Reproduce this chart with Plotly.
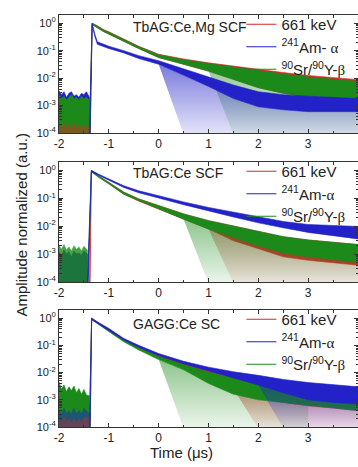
import plotly.graph_objects as go

# ---------------- data ----------------
FLOOR = 9e-5
x_ticks = [-2, -1, 0, 1, 2, 3, 4]
y_tick_vals = [1e-4, 1e-3, 1e-2, 1e-1, 1]
y_tick_text = ["10<sup>-4</sup>", "10<sup>-3</sup>", "10<sup>-2</sup>", "10<sup>-1</sup>", "10<sup>0</sup>"]

panel_titles = ["TbAG:Ce,Mg SCF", "TbAG:Ce SCF", "GAGG:Ce SC"]
serif = '<span style="font-family:Liberation Serif">%s</span>'
legend_p1 = ["661 keV", "<sup>241</sup>Am- " + serif % "α", "<sup>90</sup>Sr/<sup>90</sup>Y-" + serif % "β"]
legend_p23 = ["661 keV", "<sup>241</sup>Am-" + serif % "α", "<sup>90</sup>Sr/<sup>90</sup>Y-" + serif % "β"]

# ---- panel 1 : TbAG:Ce,Mg SCF ----
p1_t_pre = [-2.0, -1.95, -1.9, -1.85, -1.8, -1.75, -1.7, -1.65, -1.6, -1.55, -1.5, -1.45, -1.39]
p1_red_pre = [2e-4, 1.5e-4, 2.5e-4, 1.5e-4, 2e-4, 1.5e-4, 2.5e-4, 1.5e-4, 2e-4, 1.5e-4, 2e-4, 1.5e-4, 2e-4]
p1_blue_pre = [3.5e-3, 2.5e-3, 3.2e-3, 2.0e-3, 2.8e-3, 3.2e-3, 2.2e-3, 2.5e-3, 2.0e-3, 2.8e-3, 2.5e-3, 3.2e-3, 2.0e-3]
p1_green_pre = [2.5e-3, 1.8e-3, 2.2e-3, 1.6e-3, 2.0e-3, 2.5e-3, 1.8e-3, 2.0e-3, 1.6e-3, 2.2e-3, 1.8e-3, 2.0e-3, 1.6e-3]
p1_rise = -1.39
p1_t = [-1.335, -1.25, -1.1, -1.0, -0.7, -0.4, 0.0, 0.5, 1.0, 1.5, 2.0, 2.5, 3.0, 3.5, 4.0]
p1_red_hi = [1.0, 0.85, 0.58, 0.49, 0.27, 0.145, 0.074, 0.05, 0.036, 0.027, 0.021, 0.016, 0.0125, 0.0102, 0.0088]
p1_red_lo = [0.89, 0.72, 0.49, 0.40, 0.22, 0.12, 0.056, 0.032, 0.018, 0.0089, 0.0045, 0.0028, 0.002, 0.0014, 0.0011]
p1_green_hi = [1.0, 0.83, 0.56, 0.47, 0.26, 0.14, 0.071, 0.047, 0.034, 0.025, 0.019, 0.014, 0.011, 0.0089, 0.0076]
p1_green_lo = [0.89, 0.72, 0.49, 0.40, 0.22, 0.12, 0.056, 0.032, 0.018, 0.0089, 0.0045, 0.0028, 0.002, 0.0014, 0.0011]
p1_t_blue = [-1.335, -1.28, -1.23, -1.1, -1.0, -0.7, -0.4, 0.0, 0.5, 1.0, 1.5, 2.0, 2.5, 3.0, 3.5, 4.0]
p1_blue_hi = [1.0, 0.40, 0.21, 0.17, 0.145, 0.10, 0.066, 0.043, 0.022, 0.011, 0.0056, 0.0032, 0.0025, 0.0022, 0.002, 0.0018]
p1_blue_lo = [0.87, 0.32, 0.17, 0.14, 0.12, 0.083, 0.052, 0.032, 0.0126, 0.005, 0.0018, 0.0009, 0.0007, 0.0006, 0.0006, 0.0006]

# ---- panel 2 : TbAG:Ce SCF ----
p2_t_pre = [-2.0, -1.95, -1.9, -1.85, -1.8, -1.75, -1.7, -1.65, -1.6, -1.55, -1.5, -1.43]
p2_red_pre = [2e-4, 1.5e-4, 2.5e-4, 1.5e-4, 2e-4, 1.5e-4, 2.5e-4, 1.5e-4, 2e-4, 1.5e-4, 2e-4, 1.5e-4]
p2_blue_pre = [1.2e-3, 0.9e-3, 1.4e-3, 1.0e-3, 1.2e-3, 0.8e-3, 1.3e-3, 1.0e-3, 1.1e-3, 0.9e-3, 1.3e-3, 1.0e-3]
p2_green_pre = [2.0e-3, 1.5e-3, 2.2e-3, 1.4e-3, 1.8e-3, 1.3e-3, 2.0e-3, 1.5e-3, 1.8e-3, 1.3e-3, 1.9e-3, 1.4e-3]
p2_rise = -1.43
p2_red_rise = -1.39
p2_t = [-1.35, -1.2, -1.0, -0.7, -0.4, 0.0, 0.5, 1.0, 1.5, 2.0, 2.5, 3.0, 3.5, 4.0]
p2_red_hi = [1.0, 0.63, 0.38, 0.166, 0.095, 0.054, 0.0275, 0.0158, 0.01, 0.0066, 0.0042, 0.0032, 0.0026, 0.0022]
p2_red_lo = [0.89, 0.55, 0.33, 0.14, 0.079, 0.042, 0.0178, 0.0079, 0.003, 0.0015, 0.0008, 0.0006, 0.0005, 0.0004]
p2_green_hi = [1.0, 0.63, 0.38, 0.166, 0.095, 0.054, 0.0275, 0.0158, 0.01, 0.0066, 0.0042, 0.0032, 0.0026, 0.0022]
p2_green_lo = [0.89, 0.55, 0.33, 0.14, 0.079, 0.042, 0.0178, 0.0079, 0.004, 0.002, 0.0011, 0.0008, 0.00063, 0.0005]
p2_blue_hi = [1.0, 0.72, 0.50, 0.28, 0.186, 0.123, 0.074, 0.047, 0.032, 0.021, 0.0148, 0.0115, 0.0105, 0.0098]
p2_blue_lo = [0.89, 0.65, 0.44, 0.245, 0.158, 0.102, 0.059, 0.035, 0.0214, 0.0132, 0.0087, 0.006, 0.0045, 0.0035]

# ---- panel 3 : GAGG:Ce SC ----
p3_t_pre = [-2.0, -1.95, -1.9, -1.85, -1.8, -1.75, -1.7, -1.65, -1.6, -1.55, -1.5, -1.45, -1.39]
p3_red_pre = [2e-4, 1.5e-4, 2.5e-4, 1.5e-4, 2e-4, 1.5e-4, 2e-4, 1.5e-4, 2e-4, 1.5e-4, 2e-4, 2.5e-4, 2e-4]
p3_blue_pre = [4e-4, 3e-4, 5e-4, 3e-4, 4e-4, 3e-4, 5e-4, 3e-4, 4e-4, 3e-4, 5e-4, 4e-4, 3e-4]
p3_green_pre = [4.5e-3, 2.5e-3, 3.5e-3, 2.0e-3, 3.0e-3, 2.2e-3, 3.2e-3, 1.8e-3, 2.6e-3, 1.6e-3, 2.4e-3, 1.5e-3, 1.4e-3]
p3_rise = -1.39
p3_t = [-1.345, -1.2, -1.0, -0.7, -0.4, 0.0, 0.5, 1.0, 1.5, 2.0, 2.5, 3.0, 3.5, 4.0]
p3_red_hi = [1.0, 0.66, 0.40, 0.17, 0.091, 0.045, 0.023, 0.0126, 0.0079, 0.0056, 0.004, 0.0032, 0.0025, 0.0021]
p3_red_lo = [0.89, 0.58, 0.34, 0.145, 0.075, 0.035, 0.015, 0.006, 0.0025, 0.0012, 0.0008, 0.0006, 0.0005, 0.0004]
p3_green_hi = [1.0, 0.65, 0.38, 0.158, 0.083, 0.04, 0.02, 0.0105, 0.0063, 0.0045, 0.0032, 0.0024, 0.002, 0.00166]
p3_green_lo = [0.89, 0.56, 0.32, 0.135, 0.068, 0.03, 0.0126, 0.004, 0.0016, 0.001, 0.0008, 0.00063, 0.0005, 0.0004]
p3_blue_hi = [1.0, 0.68, 0.42, 0.18, 0.1, 0.05, 0.026, 0.0158, 0.0107, 0.0079, 0.0056, 0.0043, 0.0035, 0.003]
p3_blue_lo = [0.89, 0.6, 0.36, 0.158, 0.085, 0.042, 0.021, 0.0112, 0.0063, 0.0035, 0.0018, 0.001, 0.0008, 0.0007]

# ---------------- style ----------------
RED, BLUE, GREEN = "#d22a2a", "#2222c8", "#1b8a1b"
RGB = {RED: "210,42,42", BLUE: "34,34,200", GREEN: "27,138,27"}
FONT = "Liberation Sans"

fig = go.Figure()


def ax(i):
    return ("x" if i == 1 else "x%d" % i), ("y" if i == 1 else "y%d" % i)


def pre(i, t, hi, color, op=1.0):
    xa, ya = ax(i)
    fig.add_trace(go.Scatter(x=t + t[::-1], y=hi + [FLOOR] * len(t), fill="toself",
                             fillcolor=color, line=dict(color=color, width=0.6), mode="lines",
                             opacity=op, showlegend=False, hoverinfo="skip", xaxis=xa, yaxis=ya))


def band(i, t, hi, lo, rise, color, op=1.0):
    xa, ya = ax(i)
    x = [rise] + t + t[::-1] + [rise + 0.015]
    y = [FLOOR] + hi + lo[::-1] + [FLOOR]
    fig.add_trace(go.Scatter(x=x, y=y, fill="toself", fillcolor=color,
                             line=dict(color=color, width=0.6), mode="lines", opacity=op,
                             showlegend=False, hoverinfo="skip", xaxis=xa, yaxis=ya))


def spikes(i, t, lo, start, end, color, a_top=0.5, a_bot=0.08):
    xa, ya = ax(i)
    ts = [a for a in t if start <= a <= end]
    ls = [b for a, b in zip(t, lo) if start <= a <= end]
    c = RGB[color]
    bottom = [ls[0]] + [FLOOR] * (len(ts) - 1)   # tapered start of the noisy zone
    fig.add_trace(go.Scatter(x=ts + ts[::-1], y=ls + bottom[::-1], fill="toself",
                             fillgradient=dict(type="vertical",
                                               colorscale=[[0, "rgba(%s,%s)" % (c, a_bot)],
                                                           [1, "rgba(%s,%s)" % (c, a_top)]]),
                             line=dict(width=0), mode="lines",
                             showlegend=False, hoverinfo="skip", xaxis=xa, yaxis=ya))


# panel 1
pre(1, p1_t_pre, p1_blue_pre, BLUE)
pre(1, p1_t_pre, p1_green_pre, GREEN)
pre(1, p1_t_pre, p1_red_pre, RED, 0.5)
band(1, p1_t, p1_red_hi, p1_red_lo, p1_rise, RED)
band(1, p1_t, p1_green_hi, p1_green_lo, p1_rise, GREEN)
spikes(1, p1_t, p1_green_lo, 1.0, 4.0, GREEN, 0.45)
band(1, p1_t_blue, p1_blue_hi, p1_blue_lo, p1_rise, BLUE)
spikes(1, p1_t_blue, p1_blue_lo, 0.0, 4.0, BLUE, 0.6, 0.12)

# panel 2
pre(2, p2_t_pre, p2_red_pre, RED)
pre(2, p2_t_pre, p2_blue_pre, BLUE)
pre(2, p2_t_pre, p2_green_pre, GREEN, 0.8)
band(2, p2_t, p2_red_hi, p2_red_lo, p2_red_rise, RED)
spikes(2, p2_t, p2_red_lo, 1.0, 4.0, RED, 0.4)
band(2, p2_t, p2_green_hi, p2_green_lo, p2_rise, GREEN)
spikes(2, p2_t, p2_green_lo, 0.5, 4.0, GREEN, 0.5)
band(2, p2_t, p2_blue_hi, p2_blue_lo, p2_rise, BLUE)

# panel 3
pre(3, p3_t_pre, p3_green_pre, GREEN)
pre(3, p3_t_pre, p3_blue_pre, BLUE, 0.5)
pre(3, p3_t_pre, p3_red_pre, RED, 0.4)
band(3, p3_t, p3_red_hi, p3_red_lo, p3_rise, RED)
spikes(3, p3_t, p3_red_lo, 1.5, 4.0, RED, 0.5)
band(3, p3_t, p3_green_hi, p3_green_lo, p3_rise, GREEN)
spikes(3, p3_t, p3_green_lo, 0.0, 3.0, GREEN, 0.5)
band(3, p3_t, p3_blue_hi, p3_blue_lo, p3_rise, BLUE)
spikes(3, p3_t, p3_blue_lo, 2.0, 4.0, BLUE, 0.45)

# legends
for i, labels in zip([1, 2, 3], [legend_p1, legend_p23, legend_p23]):
    xa, ya = ax(i)
    lg = "legend" if i == 1 else "legend%d" % i
    for lab, col in zip(labels, [RED, BLUE, GREEN]):
        fig.add_trace(go.Scatter(x=[None], y=[None], mode="lines", line=dict(color=col, width=1),
                                 name=lab, legend=lg, legendgroup="%s_%s" % (lg, col),
                                 xaxis=xa, yaxis=ya))

# ---------------- layout ----------------
H = 467
top, bot = 15, 40
span = H - top - bot
panels_px = [(15, 133), (162, 282), (310, 427)]


def dom(a, b):
    return [(H - bot - b) / span, (H - bot - a) / span]


axis_common = dict(showline=True, linecolor="#333", linewidth=1, mirror="allticks",
                   ticks="inside", ticklen=4, tickcolor="#333", showgrid=False, zeroline=False,
                   tickfont=dict(size=12, color="#222", family=FONT))
layout = dict(width=358, height=H, margin=dict(l=59, r=0, t=top, b=bot),
              paper_bgcolor="white", plot_bgcolor="white",
              font=dict(family=FONT, color="#222"), showlegend=True)

for i, (a, b) in enumerate(panels_px, start=1):
    xa, ya = ax(i)
    xk = "xaxis" if i == 1 else "xaxis%d" % i
    yk = "yaxis" if i == 1 else "yaxis%d" % i
    layout[xk] = dict(axis_common, range=[-2, 4], tickvals=x_ticks, ticktext=[str(v) for v in x_ticks],
                      anchor=ya, domain=[0, 1],
                      minor=dict(dtick=0.5, ticks="inside", ticklen=2.5, tickcolor="#333"))
    layout[yk] = dict(axis_common, type="log", range=[-4, 0.3], tickvals=y_tick_vals,
                      ticktext=y_tick_text, anchor=xa, domain=dom(a, b),
                      tickfont=dict(size=11, color="#222", family=FONT),
                      minor=dict(dtick="D1", ticks="inside", ticklen=2.5, tickcolor="#333"))
    lg = "legend" if i == 1 else "legend%d" % i
    layout[lg] = dict(x=0.61, y=(H - bot - (a - 7)) / span, xanchor="left", yanchor="top",
                      bgcolor="rgba(0,0,0,0)", font=dict(size=15, family=FONT, color="#222"),
                      itemwidth=30, tracegroupgap=0)

fig.update_layout(**layout)

label_y = [0.9, 0.905, 0.882]
for i, (txt, ly) in enumerate(zip(panel_titles, label_y), start=1):
    xa, ya = ax(i)
    fig.add_annotation(text=txt, xref=xa + " domain", yref=ya + " domain", x=0.242, y=ly,
                       xanchor="left", yanchor="middle", showarrow=False,
                       font=dict(size=14, family=FONT, color="#222"))

fig.add_annotation(text="Amplitude normalized (a.u.)", xref="paper", yref="paper",
                   x=(10 - 59) / 299, y=(H - bot - 225) / span, textangle=-90,
                   showarrow=False, font=dict(size=15, family=FONT, color="#222"))
fig.add_annotation(text="Time (μs)", xref="paper", yref="paper",
                   x=(181 - 59) / 299, y=(H - bot - 452) / span, xanchor="center", yanchor="middle",
                   showarrow=False, font=dict(size=15, family=FONT, color="#222"))

fig.write_html("out.html", config={"displayModeBar": False},
               post_script="document.body.style.margin='0';")
